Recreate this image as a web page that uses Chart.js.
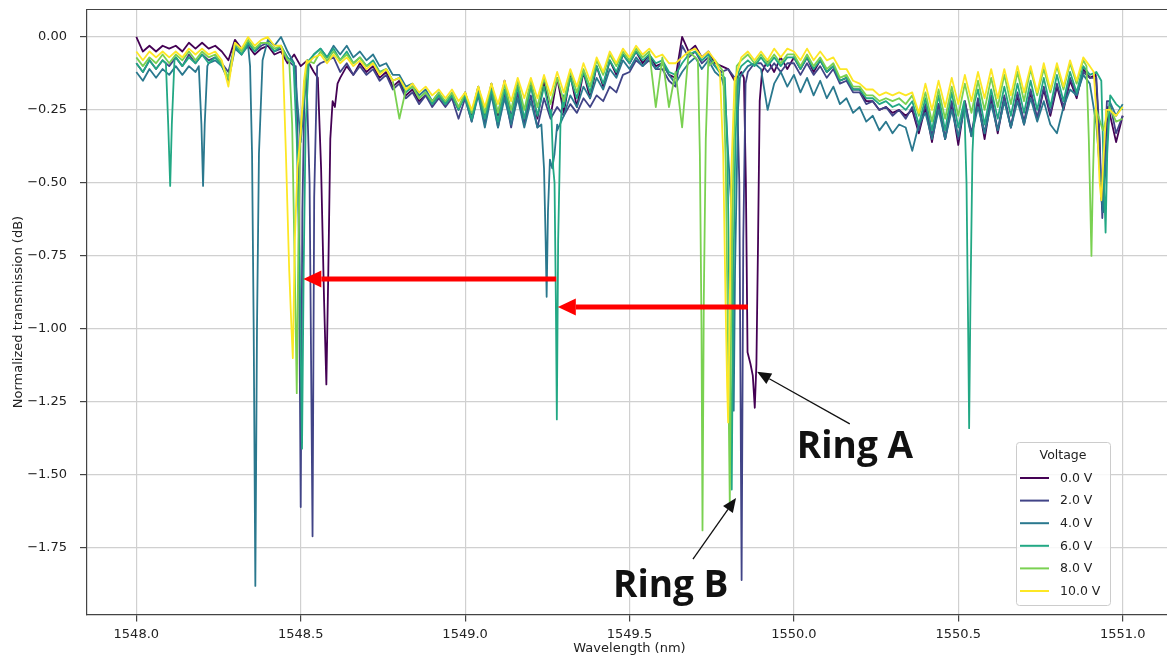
<!DOCTYPE html>
<html>
<head>
<meta charset="utf-8">
<script src="https://cdn.jsdelivr.net/npm/chart.js@4.4.1/dist/chart.umd.min.js"></script>
<style>
  html, body { margin: 0; padding: 0; background: #fff; overflow: hidden; }
  canvas { display: block; }
</style>
</head>
<body>
<canvas id="grafico" width="1175" height="660"></canvas>
<script>
// longitudes de onda del barrido (nm)
const wavelengths = [
  1548.00, 1548.02, 1548.04, 1548.06, 1548.08, 1548.10, 1548.12, 1548.14, 1548.16, 1548.18,
  1548.20, 1548.22, 1548.24, 1548.26, 1548.28, 1548.30, 1548.32, 1548.34, 1548.36, 1548.38,
  1548.40, 1548.42, 1548.44, 1548.46, 1548.48, 1548.50, 1548.52, 1548.54, 1548.56, 1548.58,
  1548.60, 1548.62, 1548.64, 1548.66, 1548.68, 1548.70, 1548.72, 1548.74, 1548.76, 1548.78,
  1548.80, 1548.82, 1548.84, 1548.86, 1548.88, 1548.90, 1548.92, 1548.94, 1548.96, 1548.98,
  1549.00, 1549.02, 1549.04, 1549.06, 1549.08, 1549.10, 1549.12, 1549.14, 1549.16, 1549.18,
  1549.20, 1549.22, 1549.24, 1549.26, 1549.28, 1549.30, 1549.32, 1549.34, 1549.36, 1549.38,
  1549.40, 1549.42, 1549.44, 1549.46, 1549.48, 1549.50, 1549.52, 1549.54, 1549.56, 1549.58,
  1549.60, 1549.62, 1549.64, 1549.66, 1549.68, 1549.70, 1549.72, 1549.74, 1549.76, 1549.78,
  1549.80, 1549.82, 1549.84, 1549.86, 1549.88, 1549.90, 1549.92, 1549.94, 1549.96, 1549.98,
  1550.00, 1550.02, 1550.04, 1550.06, 1550.08, 1550.10, 1550.12, 1550.14, 1550.16, 1550.18,
  1550.20, 1550.22, 1550.24, 1550.26, 1550.28, 1550.30, 1550.32, 1550.34, 1550.36, 1550.38,
  1550.40, 1550.42, 1550.44, 1550.46, 1550.48, 1550.50, 1550.52, 1550.54, 1550.56, 1550.58,
  1550.60, 1550.62, 1550.64, 1550.66, 1550.68, 1550.70, 1550.72, 1550.74, 1550.76, 1550.78,
  1550.80, 1550.82, 1550.84, 1550.86, 1550.88, 1550.90, 1550.92, 1550.94, 1550.96, 1550.98, 1551.00
];

const voltages = ['0.0 V', '2.0 V', '4.0 V', '6.0 V', '8.0 V', '10.0 V'];
const colores = ['#440154', '#414487', '#2a788e', '#22a884', '#7ad151', '#fde725'];
const xTicks = [1548.0, 1548.5, 1549.0, 1549.5, 1550.0, 1550.5, 1551.0];
const yTicks = [-1.75, -1.5, -1.25, -1.0, -0.75, -0.5, -0.25, 0.0];

// transmision normalizada (dB) en cada longitud de onda
const t0V = [
  0.00, -0.05, -0.03, -0.05, -0.03, -0.04, -0.03, -0.05, -0.02, -0.04,
  -0.02, -0.04, -0.03, -0.05, -0.08, -0.01, -0.04, -0.03, -0.06, -0.04,
  -0.03, -0.06, -0.05, -0.09, -0.06, -0.10, -0.08, -0.12, -0.16, -0.20,
  -0.23, -0.14, -0.10, -0.13, -0.09, -0.12, -0.10, -0.14, -0.12, -0.17,
  -0.15, -0.20, -0.18, -0.22, -0.20, -0.23, -0.20, -0.23, -0.20, -0.25,
  -0.19, -0.27, -0.17, -0.28, -0.16, -0.27, -0.15, -0.28, -0.16, -0.29,
  -0.16, -0.28, -0.15, -0.27, -0.14, -0.26, -0.13, -0.24, -0.12, -0.21,
  -0.10, -0.17, -0.08, -0.13, -0.06, -0.09, -0.05, -0.09, -0.06, -0.10,
  -0.09, -0.13, -0.14, 0.00, -0.05, -0.03, -0.07, -0.05, -0.09, -0.10,
  -0.11, -0.15, -0.12, -0.20, -1.00, -0.11, -0.08, -0.12, -0.07, -0.11,
  -0.07, -0.11, -0.07, -0.12, -0.08, -0.12, -0.10, -0.15, -0.14, -0.18,
  -0.18, -0.22, -0.22, -0.25, -0.24, -0.26, -0.25, -0.27, -0.25, -0.33,
  -0.24, -0.36, -0.23, -0.35, -0.23, -0.37, -0.22, -0.34, -0.22, -0.35,
  -0.21, -0.33, -0.21, -0.31, -0.20, -0.30, -0.19, -0.28, -0.18, -0.27,
  -0.17, -0.25, -0.15, -0.21, -0.11, -0.14, -0.45, -0.30, -0.26, -0.36, -0.27
];
const t2V = [
  -0.09, -0.12, -0.08, -0.11, -0.08, -0.10, -0.07, -0.10, -0.06, -0.09,
  -0.06, -0.08, -0.07, -0.09, -0.12, -0.03, -0.06, -0.02, -0.05, -0.03,
  -0.02, -0.05, -0.04, -0.08, -0.10, -0.50, -0.14, -0.40, -0.09, -0.08,
  -0.07, -0.12, -0.09, -0.13, -0.10, -0.13, -0.11, -0.15, -0.13, -0.18,
  -0.16, -0.21, -0.19, -0.23, -0.20, -0.24, -0.21, -0.24, -0.21, -0.28,
  -0.21, -0.29, -0.19, -0.30, -0.18, -0.31, -0.19, -0.31, -0.19, -0.30,
  -0.20, -0.31, -0.21, -0.28, -0.24, -0.27, -0.23, -0.26, -0.21, -0.24,
  -0.20, -0.22, -0.17, -0.19, -0.13, -0.12, -0.08, -0.10, -0.08, -0.11,
  -0.11, -0.15, -0.17, -0.03, -0.07, -0.05, -0.09, -0.07, -0.10, -0.12,
  -0.11, -0.14, -0.13, -0.12, -0.09, -0.09, -0.12, -0.09, -0.12, -0.09,
  -0.09, -0.13, -0.09, -0.13, -0.10, -0.14, -0.11, -0.16, -0.15, -0.19,
  -0.19, -0.23, -0.22, -0.25, -0.24, -0.27, -0.25, -0.28, -0.24, -0.32,
  -0.23, -0.34, -0.23, -0.35, -0.22, -0.35, -0.22, -0.33, -0.21, -0.33,
  -0.20, -0.32, -0.20, -0.31, -0.19, -0.29, -0.18, -0.28, -0.17, -0.26,
  -0.16, -0.24, -0.14, -0.20, -0.12, -0.14, -0.14, -0.40, -0.22, -0.33, -0.27
];
const t4V = [
  -0.12, -0.15, -0.11, -0.14, -0.11, -0.13, -0.10, -0.13, -0.10, -0.12,
  -0.20, -0.09, -0.08, -0.10, -0.15, -0.04, -0.06, -0.03, -0.30, -0.06,
  -0.01, -0.03, 0.00, -0.05, -0.09, -0.36, -0.10, -0.06, -0.04, -0.07,
  -0.03, -0.06, -0.03, -0.07, -0.05, -0.08, -0.06, -0.10, -0.09, -0.13,
  -0.13, -0.17, -0.16, -0.20, -0.18, -0.22, -0.19, -0.23, -0.20, -0.24,
  -0.21, -0.29, -0.20, -0.31, -0.20, -0.31, -0.21, -0.30, -0.21, -0.31,
  -0.22, -0.31, -0.30, -0.40, -0.30, -0.27, -0.20, -0.24, -0.17, -0.21,
  -0.14, -0.18, -0.11, -0.14, -0.08, -0.11, -0.07, -0.10, -0.07, -0.11,
  -0.09, -0.13, -0.16, -0.12, -0.09, -0.07, -0.11, -0.08, -0.12, -0.14,
  -0.30, -0.50, -0.13, -0.10, -0.09, -0.11, -0.25, -0.16, -0.12, -0.17,
  -0.13, -0.19, -0.14, -0.20, -0.15, -0.21, -0.17, -0.23, -0.21, -0.26,
  -0.24, -0.29, -0.27, -0.32, -0.29, -0.33, -0.30, -0.31, -0.39, -0.30,
  -0.26, -0.35, -0.25, -0.35, -0.25, -0.34, -0.24, -0.34, -0.24, -0.33,
  -0.23, -0.32, -0.22, -0.31, -0.22, -0.30, -0.21, -0.29, -0.22, -0.30,
  -0.33, -0.24, -0.18, -0.20, -0.13, -0.16, -0.30, -0.60, -0.22, -0.27, -0.23
];
const t6V = [
  -0.09, -0.12, -0.08, -0.11, -0.08, -0.30, -0.07, -0.10, -0.07, -0.09,
  -0.06, -0.09, -0.07, -0.10, -0.14, -0.03, -0.06, -0.02, -0.05, -0.02,
  -0.02, -0.05, -0.03, -0.07, -0.10, -1.00, -0.20, -0.06, -0.04, -0.07,
  -0.04, -0.08, -0.05, -0.09, -0.07, -0.10, -0.08, -0.12, -0.11, -0.15,
  -0.14, -0.19, -0.17, -0.21, -0.19, -0.23, -0.20, -0.23, -0.20, -0.25,
  -0.20, -0.28, -0.19, -0.28, -0.18, -0.29, -0.18, -0.28, -0.17, -0.28,
  -0.17, -0.27, -0.17, -0.27, -0.50, -0.24, -0.14, -0.21, -0.12, -0.19,
  -0.10, -0.16, -0.08, -0.12, -0.06, -0.09, -0.05, -0.08, -0.06, -0.09,
  -0.08, -0.12, -0.13, -0.09, -0.06, -0.05, -0.08, -0.06, -0.10, -0.13,
  -0.50, -0.50, -0.10, -0.08, -0.10, -0.07, -0.10, -0.07, -0.10, -0.07,
  -0.07, -0.11, -0.07, -0.11, -0.08, -0.12, -0.10, -0.15, -0.14, -0.18,
  -0.18, -0.21, -0.21, -0.23, -0.22, -0.24, -0.23, -0.25, -0.22, -0.30,
  -0.21, -0.32, -0.20, -0.32, -0.19, -0.31, -0.30, -0.30, -0.18, -0.30,
  -0.18, -0.28, -0.17, -0.27, -0.16, -0.26, -0.15, -0.25, -0.14, -0.24,
  -0.13, -0.22, -0.12, -0.19, -0.10, -0.13, -0.12, -0.30, -0.30, -0.23, -0.25
];
const t8V = [
  -0.07, -0.10, -0.07, -0.09, -0.06, -0.09, -0.06, -0.08, -0.05, -0.08,
  -0.05, -0.07, -0.06, -0.09, -0.14, -0.02, -0.05, -0.01, -0.04, -0.02,
  -0.02, -0.04, -0.03, -0.08, -0.50, -0.30, -0.08, -0.09, -0.05, -0.08,
  -0.05, -0.08, -0.06, -0.09, -0.07, -0.10, -0.09, -0.12, -0.11, -0.15,
  -0.28, -0.18, -0.17, -0.21, -0.19, -0.22, -0.19, -0.22, -0.19, -0.24,
  -0.19, -0.26, -0.17, -0.26, -0.16, -0.26, -0.16, -0.25, -0.15, -0.25,
  -0.15, -0.24, -0.14, -0.23, -0.14, -0.22, -0.12, -0.19, -0.11, -0.17,
  -0.08, -0.13, -0.06, -0.10, -0.05, -0.08, -0.04, -0.07, -0.05, -0.24,
  -0.07, -0.24, -0.12, -0.31, -0.05, -0.07, -0.50, -0.07, -0.08, -0.11,
  -0.50, -0.30, -0.08, -0.06, -0.09, -0.06, -0.09, -0.06, -0.09, -0.06,
  -0.06, -0.10, -0.06, -0.10, -0.07, -0.11, -0.09, -0.14, -0.13, -0.17,
  -0.17, -0.20, -0.20, -0.22, -0.21, -0.22, -0.21, -0.23, -0.20, -0.27,
  -0.19, -0.29, -0.18, -0.28, -0.17, -0.27, -0.16, -0.26, -0.15, -0.25,
  -0.14, -0.24, -0.13, -0.23, -0.12, -0.22, -0.11, -0.20, -0.11, -0.19,
  -0.10, -0.18, -0.09, -0.16, -0.08, -0.40, -0.25, -0.32, -0.24, -0.29, -0.28
];
const t10V = [
  -0.05, -0.08, -0.05, -0.07, -0.05, -0.07, -0.05, -0.07, -0.04, -0.06,
  -0.04, -0.06, -0.05, -0.08, -0.17, -0.02, -0.04, 0.00, -0.03, -0.01,
  0.00, -0.03, -0.03, -0.30, -0.80, -0.40, -0.09, -0.07, -0.06, -0.09,
  -0.06, -0.09, -0.07, -0.10, -0.08, -0.11, -0.09, -0.13, -0.11, -0.15,
  -0.14, -0.18, -0.16, -0.19, -0.17, -0.20, -0.18, -0.21, -0.18, -0.22,
  -0.19, -0.25, -0.17, -0.24, -0.16, -0.23, -0.15, -0.22, -0.14, -0.21,
  -0.14, -0.21, -0.13, -0.20, -0.12, -0.19, -0.11, -0.17, -0.09, -0.15,
  -0.07, -0.12, -0.05, -0.09, -0.04, -0.07, -0.03, -0.06, -0.04, -0.07,
  -0.06, -0.09, -0.09, -0.07, -0.05, -0.04, -0.07, -0.05, -0.08, -0.40,
  -0.50, -0.14, -0.07, -0.05, -0.08, -0.05, -0.08, -0.04, -0.07, -0.04,
  -0.05, -0.08, -0.04, -0.08, -0.05, -0.08, -0.07, -0.11, -0.11, -0.15,
  -0.16, -0.18, -0.18, -0.20, -0.19, -0.20, -0.19, -0.20, -0.19, -0.26,
  -0.16, -0.25, -0.15, -0.24, -0.14, -0.23, -0.13, -0.22, -0.12, -0.21,
  -0.11, -0.21, -0.11, -0.20, -0.10, -0.19, -0.10, -0.19, -0.09, -0.18,
  -0.09, -0.17, -0.08, -0.15, -0.07, -0.10, -0.30, -0.40, -0.25, -0.27, -0.24
];

// resonancias de los anillos: [longitud de onda, dB] muestreadas mas fino
const dips0V = [
  [[1548.552, -0.14], [1548.562, -0.45], [1548.571, -0.9], [1548.578, -1.19], [1548.584, -0.8], [1548.59, -0.35], [1548.597, -0.22], [1548.604, -0.24], [1548.612, -0.16]],
  [[1549.848, -0.14], [1549.854, -0.5], [1549.859, -1.08], [1549.868, -1.12], [1549.875, -1.16], [1549.881, -1.27], [1549.886, -1.12], [1549.891, -0.7], [1549.896, -0.22], [1549.903, -0.12]],
  [[1550.918, -0.13], [1550.928, -0.32], [1550.935, -0.55], [1550.94, -0.6], [1550.946, -0.4], [1550.955, -0.24]]
];
const dips2V = [
  [[1548.485, -0.10], [1548.493, -0.45], [1548.50, -1.61], [1548.505, -0.6], [1548.512, -0.15]],
  [[1548.518, -0.15], [1548.527, -0.5], [1548.536, -1.71], [1548.541, -0.55], [1548.55, -0.10]],
  [[1549.826, -0.14], [1549.834, -0.5], [1549.841, -1.86], [1549.846, -0.7], [1549.853, -0.16]],
  [[1550.92, -0.14], [1550.93, -0.35], [1550.938, -0.62], [1550.944, -0.45], [1550.952, -0.22]]
];
const dips4V = [
  [[1548.19, -0.10], [1548.198, -0.3], [1548.203, -0.51], [1548.208, -0.3], [1548.216, -0.10]],
  [[1548.346, -0.10], [1548.352, -0.4], [1548.357, -1.0], [1548.362, -1.88], [1548.367, -1.0], [1548.373, -0.4], [1548.384, -0.08]],
  [[1549.232, -0.30], [1549.24, -0.45], [1549.245, -0.7], [1549.248, -0.89], [1549.252, -0.6], [1549.258, -0.42], [1549.265, -0.45], [1549.272, -0.40], [1549.28, -0.32]],
  [[1549.79, -0.18], [1549.80, -0.4], [1549.808, -0.55], [1549.813, -0.9], [1549.817, -1.28], [1549.821, -0.8], [1549.83, -0.25], [1549.836, -0.14]]
];
const dips6V = [
  [[1548.09, -0.09], [1548.097, -0.3], [1548.103, -0.51], [1548.108, -0.3], [1548.116, -0.08]],
  [[1548.478, -0.09], [1548.488, -0.35], [1548.497, -0.8], [1548.504, -1.41], [1548.509, -0.8], [1548.515, -0.3], [1548.525, -0.08]],
  [[1549.262, -0.25], [1549.268, -0.45], [1549.272, -0.5], [1549.276, -0.9], [1549.279, -1.31], [1549.283, -0.7], [1549.29, -0.3], [1549.298, -0.2]],
  [[1549.79, -0.14], [1549.798, -0.4], [1549.804, -0.95], [1549.808, -1.26], [1549.811, -1.55], [1549.815, -0.9], [1549.822, -0.35], [1549.832, -0.12]],
  [[1550.518, -0.22], [1550.525, -0.5], [1550.53, -1.0], [1550.533, -1.34], [1550.537, -0.9], [1550.543, -0.4], [1550.55, -0.22]],
  [[1550.935, -0.15], [1550.942, -0.45], [1550.948, -0.67], [1550.953, -0.4], [1550.962, -0.2]]
];
const dips8V = [
  [[1548.465, -0.08], [1548.474, -0.3], [1548.482, -0.8], [1548.488, -1.22], [1548.493, -0.7], [1548.50, -0.3], [1548.51, -0.2], [1548.52, -0.08]],
  [[1549.708, -0.08], [1549.714, -0.4], [1549.719, -1.0], [1549.722, -1.69], [1549.726, -0.9], [1549.732, -0.35], [1549.74, -0.10]],
  [[1549.785, -0.12], [1549.793, -0.45], [1549.80, -1.1], [1549.805, -1.60], [1549.809, -1.0], [1549.816, -0.4], [1549.826, -0.10]],
  [[1550.89, -0.10], [1550.897, -0.35], [1550.902, -0.6], [1550.905, -0.75], [1550.909, -0.5], [1550.915, -0.25]]
];
const dips10V = [
  [[1548.445, -0.05], [1548.455, -0.4], [1548.465, -0.8], [1548.472, -1.0], [1548.476, -1.10], [1548.482, -0.7], [1548.49, -0.45], [1548.50, -0.33], [1548.51, -0.15], [1548.518, -0.08]],
  [[1549.775, -0.12], [1549.785, -0.4], [1549.792, -0.9], [1549.797, -1.2], [1549.80, -1.32], [1549.804, -1.0], [1549.81, -0.45], [1549.82, -0.15]],
  [[1550.912, -0.12], [1550.922, -0.3], [1550.93, -0.5], [1550.935, -0.56], [1550.94, -0.45], [1550.95, -0.25]]
];

// flechas y etiquetas en coordenadas de datos
const flechasRojas = [
  { desde: [1549.277, -0.829], hasta: [1548.508, -0.829] },
  { desde: [1549.860, -0.925], hasta: [1549.282, -0.925] }
];
const etiquetasAnillo = [
  { texto: 'Ring A', pos: [1550.009, -1.442], desde: [1550.17, -1.325], hasta: [1549.888, -1.147] },
  { texto: 'Ring B', pos: [1549.450, -1.918], desde: [1549.693, -1.788], hasta: [1549.824, -1.579] }
];

const series = [t0V, t2V, t4V, t6V, t8V, t10V];
const resonancias = [dips0V, dips2V, dips4V, dips6V, dips8V, dips10V];

// junta la rejilla con las resonancias (quita los puntos de la rejilla que caen dentro)
const armarSerie = (valores, dips) => {
  let puntos = wavelengths.map((x, i) => ({ x: x, y: valores[i] }));
  dips.forEach((d) => {
    const a = d[0][0], b = d[d.length - 1][0];
    puntos = puntos.filter(p => p.x <= a || p.x >= b);
    d.forEach(p => puntos.push({ x: p[0], y: p[1] }));
  });
  puntos.sort((p, q) => p.x - q.x);
  return puntos;
}

const fuente = 'DejaVu Sans';
Chart.defaults.font.family = fuente;
Chart.defaults.color = '#222';

function flecha(ctx, x1, y1, x2, y2, color, grosor, largo, ancho) {
  const ang = Math.atan2(y2 - y1, x2 - x1);
  const bx = x2 - largo * Math.cos(ang), by = y2 - largo * Math.sin(ang);
  ctx.strokeStyle = color;
  ctx.lineWidth = grosor;
  ctx.beginPath();
  ctx.moveTo(x1, y1);
  ctx.lineTo(bx, by);
  ctx.stroke();
  ctx.fillStyle = color;
  ctx.beginPath();
  ctx.moveTo(x2, y2);
  ctx.lineTo(bx + ancho * Math.sin(ang), by - ancho * Math.cos(ang));
  ctx.lineTo(bx - ancho * Math.sin(ang), by + ancho * Math.cos(ang));
  ctx.closePath();
  ctx.fill();
}

// sin relleno extra por las etiquetas de los extremos
const sinRelleno = (s) => {
  s.paddingTop = 0;
  s.paddingBottom = 0;
  s.paddingLeft = 0;
  s.paddingRight = 0;
}

const anotaciones = {
  id: 'anotaciones',
  afterDraw(chart) {
    const { ctx, chartArea } = chart;
    const sx = chart.scales.x, sy = chart.scales.y;
    ctx.save();

    // borde superior
    ctx.strokeStyle = '#444';
    ctx.lineWidth = 1.2;
    ctx.beginPath();
    ctx.moveTo(chartArea.left, chartArea.top);
    ctx.lineTo(chartArea.right, chartArea.top);
    ctx.stroke();

    flechasRojas.forEach((f) => {
      flecha(ctx, sx.getPixelForValue(f.desde[0]), sy.getPixelForValue(f.desde[1]),
        sx.getPixelForValue(f.hasta[0]), sy.getPixelForValue(f.hasta[1]), '#ff0000', 5, 18, 8.5);
    });

    etiquetasAnillo.forEach((e) => {
      flecha(ctx, sx.getPixelForValue(e.desde[0]), sy.getPixelForValue(e.desde[1]),
        sx.getPixelForValue(e.hasta[0]), sy.getPixelForValue(e.hasta[1]), '#111', 1.3, 14, 6);
      ctx.fillStyle = '#111';
      ctx.font = 'bold 37px "Open Sans"';
      ctx.textAlign = 'left';
      ctx.textBaseline = 'alphabetic';
      ctx.fillText(e.texto, sx.getPixelForValue(e.pos[0]), sy.getPixelForValue(e.pos[1]));
    });

    // leyenda (abajo a la derecha)
    const lx = 1016, ly = 442, lw = 94, lh = 163;
    ctx.fillStyle = 'rgba(255,255,255,0.85)';
    ctx.strokeStyle = '#cccccc';
    ctx.lineWidth = 1;
    ctx.beginPath();
    ctx.roundRect(lx + 0.5, ly + 0.5, lw, lh, 3);
    ctx.fill();
    ctx.stroke();
    ctx.fillStyle = '#222';
    ctx.font = '12.5px "' + fuente + '"';
    ctx.textAlign = 'center';
    ctx.textBaseline = 'middle';
    ctx.fillText('Voltage', lx + lw / 2, ly + 14);
    ctx.textAlign = 'left';
    chart.data.datasets.forEach((ds, i) => {
      const yy = ly + 36 + i * 22.6;
      ctx.strokeStyle = ds.borderColor;
      ctx.lineWidth = 2;
      ctx.beginPath();
      ctx.moveTo(lx + 4, yy);
      ctx.lineTo(lx + 33, yy);
      ctx.stroke();
      ctx.fillStyle = '#222';
      ctx.fillText(ds.label, lx + 44, yy + 0.5);
    });
    ctx.restore();
  }
};

const ctx = document.getElementById('grafico');
const grafico = new Chart(ctx, {
  type: 'line',
  data: {
    datasets: voltages.map((v, i) => ({
      label: v,
      data: armarSerie(series[i], resonancias[i]),
      borderColor: colores[i],
      backgroundColor: colores[i],
      borderWidth: 1.8,
      pointRadius: 0,
      fill: false,
      tension: 0,
      borderJoinStyle: 'round',
      order: voltages.length - i
    }))
  },
  options: {
    responsive: false,
    animation: false,
    parsing: false,
    layout: { padding: { left: 0, top: 9.5, right: 3, bottom: 0 } },
    plugins: {
      legend: { display: false },
      tooltip: { enabled: false }
    },
    scales: {
      x: {
        type: 'linear',
        min: 1547.85,
        max: 1551.15,
        afterBuildTicks: (s) => { s.ticks = xTicks.map(v => ({ value: v })); },
        afterFit: (s) => { s.height = 45.5; sinRelleno(s); },
        ticks: {
          autoSkip: false,
          maxRotation: 0,
          padding: 5,
          color: '#222',
          font: { size: 13 },
          callback: (v) => Number(v).toFixed(1)
        },
        grid: { color: '#d0d0d0', lineWidth: 1.2, tickLength: 7, tickColor: '#444', tickWidth: 1.2 },
        border: { color: '#444', width: 1.2 },
        title: { display: true, text: 'Wavelength (nm)', color: '#222', font: { size: 13 }, padding: { top: 0, bottom: 4 } }
      },
      y: {
        type: 'linear',
        min: -1.978,
        max: 0.094,
        afterBuildTicks: (s) => { s.ticks = yTicks.map(v => ({ value: v })); },
        afterFit: (s) => { s.width = 87; sinRelleno(s); },
        ticks: {
          autoSkip: false,
          padding: 13,
          color: '#222',
          font: { size: 13 },
          callback: (v) => (v < 0 ? '\u2212' : '') + Math.abs(v).toFixed(2)
        },
        grid: { color: '#d0d0d0', lineWidth: 1.2, tickLength: 7, tickColor: '#444', tickWidth: 1.2 },
        border: { color: '#444', width: 1.2 },
        title: { display: true, text: 'Normalized transmission (dB)', color: '#222', font: { size: 13 }, padding: { top: 11, bottom: 0 } }
      }
    }
  },
  plugins: [anotaciones]
});
</script>
</body>
</html>
